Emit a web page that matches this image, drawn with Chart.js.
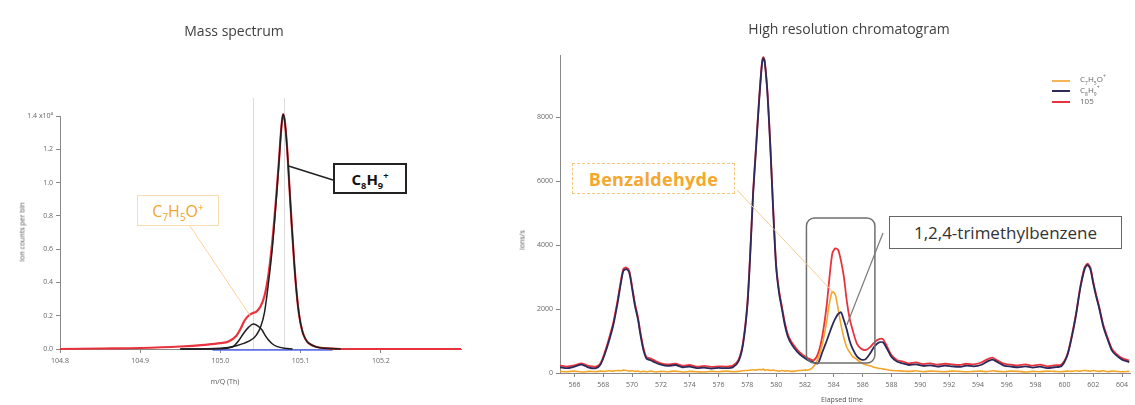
<!DOCTYPE html>
<html><head><meta charset="utf-8">
<script src="https://cdn.jsdelivr.net/npm/chart.js@4.4.1/dist/chart.umd.min.js"></script>
<style>
html,body{margin:0;padding:0;background:#fff;}
#wrap{position:relative;width:1135px;height:405px;overflow:hidden;font-family:"Open Sans","Liberation Sans",sans-serif;}
canvas{position:absolute;top:0;}
.t{position:absolute;white-space:nowrap;}
.rot{position:absolute;white-space:nowrap;transform:translate(-50%,-50%) rotate(-90deg);font-size:7px;color:#555;}
.box{position:absolute;display:flex;align-items:center;justify-content:center;box-sizing:border-box;background:#fff;}
sub,sup{font-size:0.62em;line-height:0;}
.lg{position:absolute;left:1052px;width:18px;height:2px;}
.lt{position:absolute;left:1080px;font-size:8px;color:#666;line-height:10px;}
</style></head><body>
<div id="wrap">
<canvas id="ms" width="470" height="405" style="left:0"></canvas>
<canvas id="ch" width="655" height="405" style="left:480px"></canvas>

<div class="t" style="left:134px;top:21px;width:200px;text-align:center;font-size:14px;color:#404040">Mass spectrum</div>
<div class="t" style="left:699px;top:19px;width:300px;text-align:center;font-size:14px;color:#404040">High resolution chromatogram</div>

<div class="rot" style="left:22px;top:232px">Ion counts per bin</div>
<div class="t" style="left:160px;top:377px;width:130px;text-align:center;font-size:7px;color:#555">m/Q (Th)</div>
<div class="rot" style="left:522px;top:240px">ions/s</div>
<div class="t" style="left:792px;top:395px;width:100px;text-align:center;font-size:7px;color:#555">Elapsed time</div>

<div class="box" style="left:137px;top:195px;width:82px;height:31px;border:1px solid #f6dcae;color:#f2a52c;font-size:16px;"><span>C<sub>7</sub>H<sub>5</sub>O<sup>+</sup></span></div>
<div class="box" style="left:333px;top:163px;width:74px;height:31px;border:2px solid #222;color:#111;font-size:15px;font-weight:bold;"><span>C<sub>8</sub>H<sub>9</sub><sup>+</sup></span></div>
<div class="box" style="left:572px;top:163px;width:163px;height:31px;border:1.5px dashed #f7c77e;color:#f5a82e;font-size:18px;font-weight:bold;letter-spacing:0.3px;"><span>Benzaldehyde</span></div>
<div class="box" style="left:889px;top:216px;width:233px;height:33px;border:1.5px solid #666;color:#333;font-size:17px;"><span>1,2,4-trimethylbenzene</span></div>

<div class="lg" style="top:80px;background:#f5b556"></div><div class="lt" style="top:74px">C<sub>7</sub>H<sub>5</sub>O<sup>+</sup></div>
<div class="lg" style="top:90px;background:#2d2a5a"></div><div class="lt" style="top:85px">C<sub>8</sub>H<sub>9</sub><sup>+</sup></div>
<div class="lg" style="top:101px;background:#e8333d"></div><div class="lt" style="top:96px">105</div>
</div>
<script>
// ---------- Mass spectrum data (m/Q in Th, ion counts x10^4) ----------
const msXTicks = [104.8, 104.9, 105.0, 105.1, 105.2];
const msYTicks = [0, 0.2, 0.4, 0.6, 0.8, 1.0, 1.2, 1.4];
const msRefLines = [105.041, 105.079];

const msRedX = [104.80,104.85,104.90,104.95,104.98,105.00,105.01,105.02,105.025,105.03,105.035,105.04,105.045,105.05,105.055,105.06,105.065,105.07,105.073,105.076,105.078,105.080,105.083,105.086,105.089,105.092,105.095,105.098,105.102,105.106,105.11,105.12,105.13,105.15,105.20,105.30];
const msRedY = [0,0.003,0.006,0.015,0.025,0.035,0.045,0.08,0.12,0.17,0.20,0.215,0.225,0.255,0.32,0.45,0.66,0.94,1.13,1.33,1.41,1.38,1.22,0.98,0.74,0.52,0.34,0.21,0.11,0.06,0.035,0.012,0.005,0,0,0];

const c8X = [104.95,105.00,105.02,105.03,105.04,105.045,105.05,105.055,105.06,105.065,105.07,105.073,105.076,105.078,105.080,105.083,105.086,105.089,105.092,105.095,105.098,105.102,105.106,105.11,105.12,105.13,105.15];
const c8Y = [0,0.005,0.02,0.035,0.06,0.085,0.13,0.22,0.40,0.62,0.92,1.12,1.33,1.41,1.38,1.22,0.98,0.74,0.52,0.34,0.21,0.11,0.06,0.035,0.012,0.004,0];

const c7X = [104.95,105.00,105.01,105.016,105.022,105.029,105.035,105.041,105.047,105.052,105.056,105.06,105.065,105.071,105.08,105.09];
const c7Y = [0,0.002,0.006,0.015,0.045,0.095,0.13,0.15,0.138,0.114,0.08,0.054,0.03,0.014,0.004,0];

const blueX = [104.99, 105.14];
const blueY = [-0.006, -0.006];

// ---------- Chromatogram data (elapsed time s, ions/s) ----------
const chXTicks = [566,568,570,572,574,576,578,580,582,584,586,588,590,592,594,596,598,600,602,604];
const chYTicks = [0, 2000, 4000, 6000, 8000];
const chHighlight = [582.1, 586.85, 310, 4850];

const chTime = [
565.0,565.5,566.0,566.5,567.0,567.5,567.8,568.1,568.4,568.7,
569.0,569.2,569.4,569.6,569.8,570.0,570.2,570.4,570.6,570.8,
571.0,571.3,571.6,572.0,572.5,573.0,573.5,574.0,574.5,575.0,
575.5,576.0,576.5,577.0,577.4,577.7,578.0,578.2,578.4,578.6,
578.8,579.0,579.1,579.2,579.4,579.6,579.8,580.0,580.2,580.4,
580.6,580.8,581.0,581.3,581.6,582.0,582.3,582.6,582.9,583.2,
583.5,583.7,583.9,584.1,584.3,584.5,584.7,584.9,585.1,585.3,
585.6,585.9,586.2,586.5,586.8,587.1,587.4,587.7,588.0,588.4,
588.8,589.2,589.7,590.2,590.7,591.2,591.7,592.2,592.7,593.2,
593.7,594.2,594.6,595.0,595.4,595.8,596.3,596.8,597.3,597.8,
598.3,598.8,599.3,599.8,600.2,600.5,600.8,601.1,601.4,601.6,
601.8,602.0,602.2,602.4,602.7,603.0,603.3,603.6,604.0,604.5];

const chC8H9 = [
180,150,200,260,170,150,260,580,1000,1500,
2200,2750,3200,3250,3150,2650,2100,1700,1150,700,
450,400,330,260,220,250,180,200,150,170,
140,160,150,180,380,900,2100,3700,5600,7000,
8400,9600,9850,9750,8700,7000,5000,3300,2500,2000,
1500,1150,950,750,600,460,380,330,300,650,
1000,1250,1500,1700,1850,1900,1650,1350,1000,760,
520,420,430,600,820,950,960,750,500,350,
300,250,270,220,240,200,230,210,190,230,
210,250,350,420,330,230,200,180,210,170,
200,150,180,220,550,1100,1800,2650,3250,3380,
3250,2800,2400,2050,1450,1050,700,550,420,340];

const ch105 = [
230,200,240,300,220,200,300,640,1080,1580,
2280,2820,3260,3300,3200,2720,2180,1760,1220,760,
500,450,380,300,270,290,230,250,200,220,
190,210,200,230,430,960,2180,3780,5680,7080,
8480,9650,9880,9780,8760,7080,5080,3380,2580,2070,
1580,1220,1020,820,660,520,440,400,600,1150,
2100,3000,3750,3900,3850,3500,3000,2250,1700,1350,
920,760,720,800,950,1050,1060,820,560,400,
360,300,330,280,300,260,290,270,250,290,
270,320,420,480,380,290,260,240,270,230,
260,210,240,270,580,1150,1850,2700,3300,3420,
3300,2850,2450,2100,1500,1100,750,600,470,390];

const chC7H5O = [
50,40,60,30,50,40,60,50,70,60,
80,70,90,80,60,70,50,60,40,50,
40,60,30,50,40,60,30,50,40,30,
50,40,60,40,50,70,80,90,100,90,
110,100,120,90,100,80,90,70,60,80,
60,70,50,60,80,90,100,200,450,900,
1600,2200,2550,2450,2000,1500,1100,800,650,520,
420,320,260,230,180,150,130,100,80,70,
60,50,70,40,60,50,40,60,50,40,
50,60,40,70,50,40,60,50,30,50,
40,60,50,40,60,50,70,60,80,70,
60,80,60,50,70,40,60,50,40,50];

const pts = (xs, ys) => xs.map((x, i) => ({x, y: ys[i]}));

Chart.defaults.font.family = '"Open Sans","Liberation Sans",sans-serif';
Chart.defaults.animation = false;

function line(c, leaders){
  const {ctx} = c;
  leaders.forEach(l => {
    const sx = c.scales.x, sy = c.scales.y;
    ctx.save();
    ctx.strokeStyle = l.color; ctx.lineWidth = l.w;
    ctx.beginPath();
    ctx.moveTo(l.from[0], l.from[1]);
    ctx.lineTo(sx.getPixelForValue(l.to[0]), sy.getPixelForValue(l.to[1]));
    ctx.stroke();
    ctx.restore();
  });
}

const msDecor = {
  id: 'msDecor',
  beforeDatasetsDraw(c){
    const {ctx, chartArea: a} = c;
    ctx.save(); ctx.strokeStyle = '#dcdcdc'; ctx.lineWidth = 1;
    msRefLines.forEach(v => {
      const px = Math.round(c.scales.x.getPixelForValue(v)) + 0.5;
      ctx.beginPath(); ctx.moveTo(px, a.top - 18); ctx.lineTo(px, a.bottom); ctx.stroke();
    });
    ctx.restore();
  },
  afterDatasetsDraw(c){
    line(c, [
      {from:[190,226], to:[105.037,0.2], color:'#f7d59c', w:1},
      {from:[333,180], to:[105.085,1.1], color:'#222', w:1.6}
    ]);
  }
};

const chDecor = {
  id: 'chDecor',
  afterDatasetsDraw(c){
    const {ctx} = c; const sx = c.scales.x, sy = c.scales.y;
    const x0 = sx.getPixelForValue(chHighlight[0]), x1 = sx.getPixelForValue(chHighlight[1]);
    const y1 = sy.getPixelForValue(chHighlight[2]), y0 = sy.getPixelForValue(chHighlight[3]);
    const r = 8;
    ctx.save(); ctx.strokeStyle = '#6f6f6f'; ctx.lineWidth = 1.5;
    ctx.beginPath();
    ctx.moveTo(x0 + r, y0); ctx.lineTo(x1 - r, y0); ctx.arcTo(x1, y0, x1, y0 + r, r);
    ctx.lineTo(x1, y1 - r); ctx.arcTo(x1, y1, x1 - r, y1, r);
    ctx.lineTo(x0 + r, y1); ctx.arcTo(x0, y1, x0, y1 - r, r);
    ctx.lineTo(x0, y0 + r); ctx.arcTo(x0, y0, x0 + r, y0, r);
    ctx.closePath(); ctx.stroke(); ctx.restore();
    line(c, [
      {from:[737-480,190], to:[583.9,2550], color:'#f8cb92', w:1},
      {from:[883-480,233], to:[584.9,1500], color:'#7a7a7a', w:1.2}
    ]);
  }
};

const tickFont = {size: 7};
const axisCommon = {
  grid: {display: true, drawOnChartArea: false, drawTicks: true, tickLength: 4, color: '#888'},
  border: {display: true, color: '#888', width: 1},
};

new Chart(document.getElementById('ms'), {
  type: 'line',
  data: {datasets: [
    {label:'C8H9+', data: pts(c8X, c8Y), borderColor:'#1e1e1e', borderWidth:1.5, cubicInterpolationMode:'monotone', pointRadius:0, clip:false},
    {label:'C7H5O+', data: pts(c7X, c7Y), borderColor:'#1e1e1e', borderWidth:1.5, cubicInterpolationMode:'monotone', pointRadius:0, clip:false},
    {label:'measured', data: pts(msRedX, msRedY), borderColor:'#e8333d', borderWidth:2.2, cubicInterpolationMode:'monotone', pointRadius:0, clip:false},
    {label:'baseline', data: pts(blueX, blueY), borderColor:'#5a6cf0', borderWidth:1.5, pointRadius:0, clip:false}
  ]},
  options: {
    responsive: false, devicePixelRatio: 1,
    layout: {padding: {top: 116, right: 9, left: 0, bottom: 0}},
    plugins: {legend: {display: false}, tooltip: {enabled: false}},
    scales: {
      x: {type: 'linear', min: 104.8, max: 105.3, ...axisCommon,
          afterFit: s => { s.height = 56; },
          afterBuildTicks: s => { s.ticks = msXTicks.map(v => ({value: v})); },
          ticks: {font: tickFont, color: '#666', padding: 4, maxRotation: 0, callback: v => v.toFixed(1)}},
      y: {type: 'linear', min: 0, max: 1.4, ...axisCommon,
          afterFit: s => { s.width = 60; },
          afterBuildTicks: s => { s.ticks = msYTicks.map(v => ({value: v})); },
          ticks: {font: tickFont, color: '#666', padding: 3, callback: v => v === 1.4 ? '1.4 x10\u2074' : v.toFixed(1)}}
    }
  },
  plugins: [msDecor]
});

new Chart(document.getElementById('ch'), {
  type: 'line',
  data: {datasets: [
    {label:'C8H9+', data: pts(chTime, chC8H9), borderColor:'#2d2a5a', borderWidth:1.8, tension:0.25, pointRadius:0},
    {label:'C7H5O+', data: pts(chTime, chC7H5O), borderColor:'#f5a52a', borderWidth:1.6, tension:0.25, pointRadius:0},
    {label:'105', data: pts(chTime, ch105), borderColor:'#e8333d', borderWidth:1.8, tension:0.25, pointRadius:0}
  ]},
  options: {
    responsive: false, devicePixelRatio: 1,
    layout: {padding: {top: 55, right: 5, left: 0, bottom: 0}},
    plugins: {legend: {display: false}, tooltip: {enabled: false}},
    scales: {
      x: {type: 'linear', min: 565, max: 604.55, ...axisCommon,
          afterFit: s => { s.height = 32; },
          afterBuildTicks: s => { s.ticks = chXTicks.map(v => ({value: v})); },
          ticks: {font: tickFont, color: '#666', padding: 4, maxRotation: 0, callback: v => String(v)}},
      y: {type: 'linear', min: 0, max: 9950, ...axisCommon,
          afterFit: s => { s.width = 80; },
          afterBuildTicks: s => { s.ticks = chYTicks.map(v => ({value: v})); },
          ticks: {font: tickFont, color: '#666', padding: 3, callback: v => String(v)}}
    }
  },
  plugins: [chDecor]
});
</script>
</body></html>
